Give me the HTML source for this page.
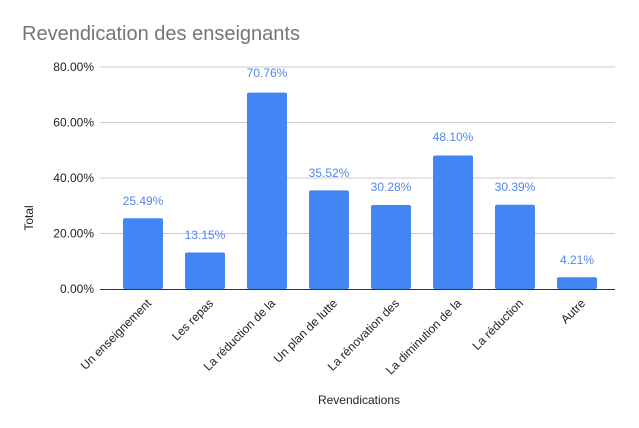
<!DOCTYPE html>
<html><head><style>body{margin:0;background:#fff}svg{display:block;font-family:"Liberation Sans",Arial,sans-serif}</style></head>
<body>
<svg width="639" height="428" viewBox="0 0 639 428">
<rect width="639" height="428" fill="#fff"/>
<text x="22" y="40" font-size="20" fill="#757575">Revendication des enseignants</text>
<g stroke="#cccccc" stroke-width="1">
<line x1="100" y1="67" x2="615" y2="67"/>
<line x1="100" y1="122.5" x2="615" y2="122.5"/>
<line x1="100" y1="178" x2="615" y2="178"/>
<line x1="100" y1="233.5" x2="615" y2="233.5"/>
</g>
<g font-size="12" fill="#222" text-anchor="end">
<text x="94" y="71">80.00%</text>
<text x="94" y="126.5">60.00%</text>
<text x="94" y="182">40.00%</text>
<text x="94" y="237.5">20.00%</text>
<text x="94" y="293">0.00%</text>
</g>
<g fill="#4285f4">
<rect x="123" y="218.3" width="40" height="70.7" rx="2"/>
<rect x="185" y="252.5" width="40" height="36.5" rx="2"/>
<rect x="247" y="92.6" width="40" height="196.4" rx="2"/>
<rect x="309" y="190.4" width="40" height="98.6" rx="2"/>
<rect x="371" y="205" width="40" height="84" rx="2"/>
<rect x="433" y="155.5" width="40" height="133.5" rx="2"/>
<rect x="495" y="204.7" width="40" height="84.3" rx="2"/>
<rect x="557" y="277.3" width="40" height="11.7" rx="2"/>
</g>
<line x1="100" y1="289.5" x2="615" y2="289.5" stroke="#333" stroke-width="1"/>
<g font-size="12" fill="#4f87ee" text-anchor="middle">
<text x="143" y="205">25.49%</text>
<text x="205" y="239">13.15%</text>
<text x="267" y="77">70.76%</text>
<text x="329" y="177">35.52%</text>
<text x="391" y="191">30.28%</text>
<text x="453" y="141">48.10%</text>
<text x="515" y="191">30.39%</text>
<text x="577" y="264">4.21%</text>
</g>
<g font-size="12" fill="#222" text-anchor="end">
<text transform="translate(152,304) rotate(-45)">Un enseignement</text>
<text transform="translate(214,304) rotate(-45)">Les repas</text>
<text transform="translate(276,304) rotate(-45)">La réduction de la</text>
<text transform="translate(338,304) rotate(-45)">Un plan de lutte</text>
<text transform="translate(400,304) rotate(-45)">La rénovation des</text>
<text transform="translate(462,304) rotate(-45)">La diminution de la</text>
<text transform="translate(524,304) rotate(-45)">La réduction</text>
<text transform="translate(586,304) rotate(-45)">Autre</text>
</g>
<text x="359" y="404" font-size="12" fill="#222" text-anchor="middle">Revendications</text>
<text transform="translate(33,218) rotate(-90)" font-size="12" fill="#222" text-anchor="middle">Total</text>
</svg>
</body></html>
